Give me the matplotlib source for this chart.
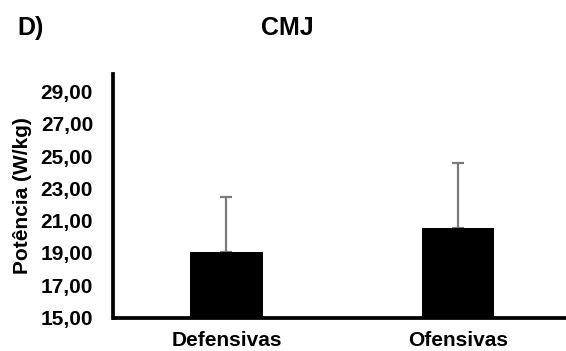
import matplotlib
matplotlib.use("Agg")
import matplotlib.pyplot as plt
from matplotlib.ticker import FuncFormatter
import numpy as np

# dados (média e desvio-padrão, CMJ)
categorias = ["Defensivas", "Ofensivas"]
medias = [19.05, 20.52]
desvios = [3.42, 4.04]
yticks = [15, 17, 19, 21, 23, 25, 27, 29]

plt.rcParams["font.family"] = ["Liberation Sans", "DejaVu Sans"]
plt.rcParams["font.weight"] = "bold"

fig = plt.figure(figsize=(5.66, 3.51), dpi=100)
ax = fig.add_axes([112.5 / 566, 1 - 317.5 / 351, 1 - 112.5 / 566, (317.5 - 74) / 351])

x = np.arange(len(categorias))
ax.bar(x, medias, width=0.315, color="black", zorder=2)
ax.errorbar(x, medias, yerr=[np.zeros(len(desvios)), desvios], fmt="none",
            ecolor="#7a7a7a", elinewidth=1.6, capsize=4.3, capthick=1.6, zorder=1)

ax.set_xlim(-0.4924, 1.4665)
ax.set_ylim(15, 30.1)
ax.set_yticks(yticks)
ax.yaxis.set_major_formatter(FuncFormatter(lambda v, p: f"{v:.2f}".replace(".", ",")))
ax.set_xticks(x)
ax.set_xticklabels(categorias, fontsize=15, fontweight="bold")
ax.tick_params(axis="y", length=0, pad=14, labelsize=15)
ax.tick_params(axis="x", length=0, pad=10)

for s in ["top", "right"]:
    ax.spines[s].set_visible(False)
for s in ["left", "bottom"]:
    ax.spines[s].set_linewidth(2.7)
ax.spines["bottom"].set_capstyle("butt")

ax.set_ylabel("Potência (W/kg)", fontsize=15, fontweight="bold")
ax.yaxis.set_label_coords(-80 / 453.5, 0.5)

fig.text(17 / 566, 1 - 28 / 351, "D)", fontsize=18, fontweight="bold", va="center", ha="left")
fig.text(287 / 566, 1 - 28 / 351, "CMJ", fontsize=18, fontweight="bold", va="center", ha="center")

fig.savefig("out.png", dpi=100)
